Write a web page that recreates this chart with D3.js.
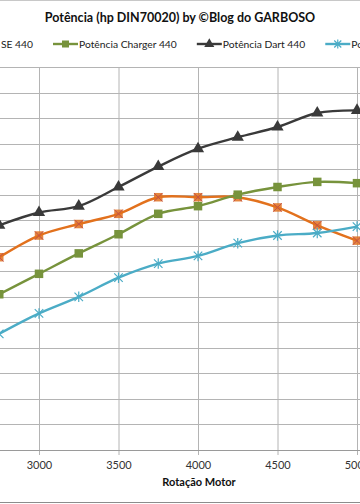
<!DOCTYPE html>
<html>
<head>
<meta charset="utf-8">
<script src="https://cdn.jsdelivr.net/npm/d3@7"></script>
<style>
  body { margin: 0; background: #fff; }
  svg { display: block; font-family: Lato, "Open Sans", sans-serif; }
</style>
</head>
<body>
<script>
//constants
const w = 360;
const h = 504;

//data
const rpm = [2750, 3000, 3250, 3500, 3750, 4000, 4250, 4500, 4750, 5000];
const chargerSE = [151, 168, 177, 185, 198, 198, 198, 190, 176, 164];
const charger = [122, 138, 154, 169, 185, 191, 200, 206, 210, 209];
const dart = [176, 186, 191, 206, 222, 236, 245, 253, 264, 266];
const other = [91, 107, 120, 135, 146, 152, 162, 168, 170, 175];
const xTicks = [3000, 3500, 4000, 4500, 5000];

const seriesNames = ["Potência Charger SE 440", "Potência Charger 440", "Potência Dart 440", "Potência Dart SE 440"];
const seriesColors = ["#E2711D", "#77933C", "#3A3A3A", "#4BACC6"];
const seriesShapes = ["xsquare", "square", "triangle", "star"];
const seriesValues = [chargerSE, charger, dart, other];

const series = seriesNames.map((name, i) => ({
  name: name,
  color: seriesColors[i],
  shape: seriesShapes[i],
  values: rpm.map((r, j) => ({ x: r, y: seriesValues[i][j] }))
}));

//scales
const xScale = d3.scaleLinear()
  .domain([3000, 5000])
  .range([39, 357]);

const yScale = d3.scaleLinear()
  .domain([0, 300])
  .range([450, 67]);

//svg
const svg = d3.select("body")
  .append("svg")
  .attr("width", w)
  .attr("height", h);

// outer chart border (cropped)
svg.append("line").attr("x1", 0).attr("x2", w).attr("y1", 0.5).attr("y2", 0.5)
  .attr("stroke", "#c8c8c8");
svg.append("line").attr("x1", 0).attr("x2", w).attr("y1", 502.5).attr("y2", 502.5)
  .attr("stroke", "#8c8c8c");

// title
svg.append("text")
  .attr("x", 180).attr("y", 22)
  .attr("text-anchor", "middle")
  .attr("font-size", 12.5).attr("font-weight", "bold")
  .attr("fill", "#111")
  .text("Potência (hp DIN70020) by ©Blog do GARBOSO");

// gridlines
svg.append("g")
  .selectAll("line")
  .data(yScale.ticks(12))
  .enter()
  .append("line")
  .attr("x1", 0).attr("x2", w)
  .attr("y1", d => Math.round(yScale(d)) + 0.5)
  .attr("y2", d => Math.round(yScale(d)) + 0.5)
  .attr("stroke", "#b4b4b4")
  .attr("stroke-width", 1);

// x axis
const xAxis = d3.axisBottom(xScale)
  .tickValues(xTicks)
  .tickSize(-(450 - 67))
  .tickPadding(11)
  .tickFormat(d3.format("d"));

const gx = svg.append("g")
  .attr("transform", "translate(0,450)")
  .call(xAxis);
gx.select(".domain").remove();
gx.selectAll(".tick line")
  .attr("stroke", "#b4b4b4")
  .attr("y2", 0)
  .attr("y1", -383);
gx.selectAll(".tick").append("line")
  .attr("y1", 0).attr("y2", 5)
  .attr("stroke", "#b4b4b4");
gx.selectAll(".tick text")
  .attr("font-size", 11)
  .attr("font-family", "Lato, sans-serif")
  .attr("fill", "#333");

svg.append("line")
  .attr("x1", 0).attr("x2", w)
  .attr("y1", 450.5).attr("y2", 450.5)
  .attr("stroke", "#9a9a9a");

svg.append("text")
  .attr("x", 199).attr("y", 486)
  .attr("text-anchor", "middle")
  .attr("font-size", 11).attr("font-weight", "bold")
  .attr("fill", "#111")
  .text("Rotação Motor");

// markers
function drawMarker(g, shape, color, size) {
  const s = size / 2;
  if (shape === "square") {
    g.append("rect").attr("x", -s).attr("y", -s).attr("width", size).attr("height", size)
      .attr("fill", color);
  } else if (shape === "xsquare") {
    g.append("rect").attr("x", -s).attr("y", -s).attr("width", size).attr("height", size)
      .attr("fill", color).attr("opacity", 0.85);
    g.append("path").attr("d", `M${-s},${-s}L${s},${s}M${s},${-s}L${-s},${s}`)
      .attr("stroke", "#c0504d").attr("stroke-width", 1);
  } else if (shape === "triangle") {
    g.append("path").attr("d", d3.symbol(d3.symbolTriangle, size * size * 0.9)())
      .attr("fill", color);
  } else if (shape === "star") {
    g.append("path")
      .attr("d", `M${-s},${-s}L${s},${s}M${s},${-s}L${-s},${s}M0,${-s - 1}L0,${s + 1}`)
      .attr("stroke", color).attr("stroke-width", 1.2).attr("fill", "none");
  }
}

const line = d3.line()
  .x(d => xScale(d.x))
  .y(d => yScale(d.y))
  .curve(d3.curveCatmullRom.alpha(0.5));

const sg = svg.selectAll(".series")
  .data(series)
  .enter()
  .append("g")
  .attr("class", "series");

sg.append("path")
  .attr("d", d => line(d.values))
  .attr("fill", "none")
  .attr("stroke", d => d.color)
  .attr("stroke-width", 2.4);

sg.each(function (d) {
  const g = d3.select(this);
  d.values.forEach(v => {
    const m = g.append("g")
      .attr("transform", "translate(" + xScale(v.x) + "," + yScale(v.y) + ")");
    drawMarker(m, d.shape, d.color, 8.5);
  });
});

// legend
const legend = svg.append("g").attr("transform", "translate(0,44)");
const lineLen = 25;
const gap = 20;
const legFont = 10.3;
let lx = 53;
const legItems = series.map(d => ({ ...d }));

// first item is cut at the left edge: lay it out backwards from x = 33
const firstText = legend.append("text")
  .attr("x", lx - gap).attr("y", 4)
  .attr("text-anchor", "end")
  .attr("font-size", legFont).attr("fill", "#222")
  .text(legItems[0].name);
const fw = firstText.node().getComputedTextLength();
const fStart = lx - gap - fw - 1 - lineLen;
legend.append("line").attr("x1", fStart).attr("x2", fStart + lineLen)
  .attr("stroke", legItems[0].color).attr("stroke-width", 2.4);
drawMarker(legend.append("g").attr("transform", "translate(" + (fStart + lineLen / 2) + ",0)"),
  legItems[0].shape, legItems[0].color, 7);

legItems.slice(1).forEach(d => {
  legend.append("line").attr("x1", lx).attr("x2", lx + lineLen)
    .attr("stroke", d.color).attr("stroke-width", 2.4);
  drawMarker(legend.append("g").attr("transform", "translate(" + (lx + lineLen / 2) + ",0)"),
    d.shape, d.color, 7);
  const t = legend.append("text")
    .attr("x", lx + lineLen + 1).attr("y", 4)
    .attr("font-size", legFont).attr("fill", "#222")
    .text(d.name);
  lx = lx + lineLen + 1 + t.node().getComputedTextLength() + gap;
});
</script>
</body>
</html>
